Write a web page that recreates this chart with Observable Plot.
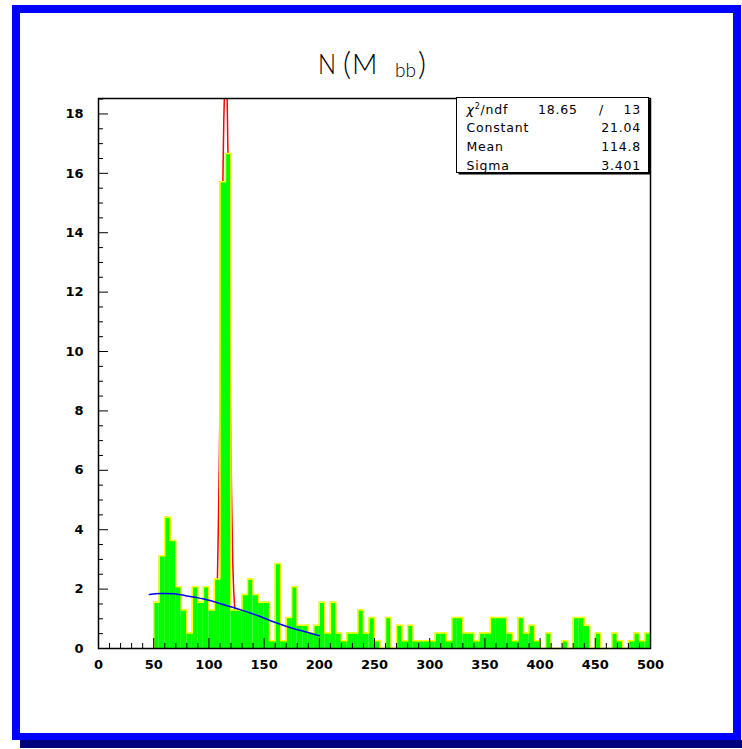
<!DOCTYPE html>
<html>
<head>
<meta charset="utf-8">
<script src="https://cdn.jsdelivr.net/npm/d3@7"></script>
<script src="https://cdn.jsdelivr.net/npm/@observablehq/plot@0.6"></script>
<style>
  html, body { margin: 0; padding: 0; background: #ffffff; }
  #page { position: relative; width: 742px; height: 749px; overflow: hidden; background: #ffffff; }
  #shadow { position: absolute; left: 20px; top: 740px; width: 722px; height: 8px; background: #00007f; }
  #outer { position: absolute; left: 12px; top: 5px; width: 729px; height: 735px; background: #0000ff; }
  #inner { position: absolute; left: 20px; top: 13px; width: 713px; height: 720px; background: #ffffff; }
  #chart { position: absolute; left: 0; top: 0; }
</style>
</head>
<body>
<div id="page">
  <div id="shadow"></div>
  <div id="outer"></div>
  <div id="inner"></div>
  <div id="chart"></div>
</div>
<script>
// ---- data ----
const binStarts = [50,55,60,65,70,75,80,85,90,95,100,105,110,115,120,125,130,135,140,145,
  150,155,160,165,170,175,180,185,190,195,200,205,210,215,220,225,230,235,240,245,
  250,255,260,265,270,275,280,285,290,295,300,305,310,315,320,325,330,335,340,345,
  350,355,360,365,370,375,380,385,390,395,400,405,410,415,420,425,430,435,440,445,
  450,455,460,465,470,475,480,485,490,495];
const binWidth = 5;
const counts = [1.56,3.12,4.42,3.64,2.08,1.30,0.52,2.08,1.56,2.08,1.30,2.34,15.72,16.67,1.30,1.30,1.82,2.34,1.82,1.56,
  1.56,0.26,2.86,0.26,1.04,2.08,0.78,0.78,0.52,0.78,1.56,0.52,1.56,0.52,0.26,0.52,0.52,1.30,0.52,1.04,
  0.26,0,1.04,0,0.78,0.26,0.78,0.26,0.26,0.26,0.26,0.52,0.52,0.26,1.04,1.04,0.52,0.52,0.26,0.52,
  0.52,1.04,1.04,1.04,0.52,0.26,1.04,0.52,0.78,0.26,0,0.52,0,0,0.26,0,1.04,1.04,0.78,0,
  0.52,0,0,0.52,0.26,0,0.26,0.52,0.26,0.52];

// Gaussian fit curve (red)
const redX = [107.7,108.5,109.5,110.5,111.5,112.5,113.5,114.5,115.5,116.5,117.5,118.5,119.5,120.5,121.5,122.5,123.5];
const redY = [2.3,4.0,6.5,9.5,12.6,15.4,17.8,19.3,19.6,18.6,16.0,12.6,8.8,5.2,3.0,1.9,1.3];

// background curve (blue)
const blueX = [46,56,68,83,98,113,129,144,159,174,189,200];
const blueY = [1.82,1.85,1.84,1.75,1.64,1.48,1.30,1.11,0.89,0.70,0.55,0.43];

const xTicks = [0,50,100,150,200,250,300,350,400,450,500];
const xMinorTicks = [10,20,30,40,60,70,80,90,110,120,130,140,160,170,180,190,210,220,230,240,
  260,270,280,290,310,320,330,340,360,370,380,390,410,420,430,440,460,470,480,490];
const yTicks = [0,2,4,6,8,10,12,14,16,18];
const yMinorTicks = [0.5,1,1.5,2.5,3,3.5,4.5,5,5.5,6.5,7,7.5,8.5,9,9.5,10.5,11,11.5,12.5,13,13.5,
  14.5,15,15.5,16.5,17,17.5,18.5];
const yMax = 18.52;

const statLabels = ["Constant", "Mean", "Sigma"];
const statValues = ["21.04", "114.8", "3.401"];
const chi2Value = "18.65";
const ndfValue = "13";

// ---- tables built from the arrays ----
const bins = binStarts.map((x, i) => ({x1: x, x2: x + binWidth, y: counts[i]}));
const outline = [{x: binStarts[0], y: 0}]
  .concat(binStarts.map((x, i) => ({x, y: counts[i]})))
  .concat([{x: binStarts[binStarts.length - 1] + binWidth, y: counts[counts.length - 1]},
           {x: binStarts[binStarts.length - 1] + binWidth, y: 0}]);
const redPts = redX.map((x, i) => ({x, y: redY[i]}));
const bluePts = blueX.map((x, i) => ({x, y: blueY[i]}));

const axisFont = {fontFamily: "DejaVu Sans", fontWeight: "bold", fontSize: 13};

const chart = Plot.plot({
  width: 742,
  height: 749,
  marginLeft: 98,
  marginRight: 92,
  marginTop: 98,
  marginBottom: 101,
  style: {background: "transparent", fontFamily: "DejaVu Sans", fontSize: "13px", color: "#000"},
  x: {domain: [0, 500]},
  y: {domain: [0, yMax]},
  marks: [
    Plot.line(redPts, {x: "x", y: "y", stroke: "#ff0000", strokeWidth: 1.5, clip: true}),
    Plot.rectY(bins, {x1: "x1", x2: "x2", y: "y", fill: "#00ff00"}),
    Plot.line(outline, {x: "x", y: "y", curve: "step-after", stroke: "#ffff00", strokeWidth: 1.5}),
    Plot.line(bluePts, {x: "x", y: "y", curve: "catmull-rom", stroke: "#0000ff", strokeWidth: 1.5}),
    Plot.axisX({ticks: xMinorTicks, tickSize: -5, tickFormat: () => "", label: null, stroke: "#000"}),
    Plot.axisX({ticks: xTicks, tickSize: -10, tickPadding: 21, label: null, stroke: "#000", ...axisFont}),
    Plot.axisY({ticks: yMinorTicks, tickSize: -5, tickFormat: () => "", label: null, stroke: "#000"}),
    Plot.axisY({ticks: yTicks, tickSize: -10, tickPadding: 25, label: null, stroke: "#000", ...axisFont}),
    Plot.frame({stroke: "#000", strokeWidth: 1.5})
  ]
});
document.getElementById("chart").appendChild(chart);

// ---- title and statistics box ----
const svg = d3.select(chart);
const titleFont = "Lato, 'DejaVu Sans', sans-serif";
function titlePart(x, y, size, txt, len) {
  const t = svg.append("text").attr("x", x).attr("y", y).attr("text-anchor", "start")
    .attr("font-family", titleFont).attr("font-weight", 300).attr("font-size", size)
    .attr("fill", "#000").text(txt);
  if (len) t.attr("textLength", len).attr("lengthAdjust", "spacingAndGlyphs");
}
titlePart(318, 73.5, 28, "N", 18);
titlePart(343, 74.5, 31, "(");
titlePart(352, 73.5, 28, "M");
titlePart(395, 77, 19, "bb");
titlePart(418, 74.5, 31, ")");

// stats box
const bx = 456.5, by = 97.5, bw = 192, bh = 75;
svg.append("rect").attr("x", bx + 2).attr("y", by + 2).attr("width", bw).attr("height", bh).attr("fill", "#000");
svg.append("rect").attr("x", bx).attr("y", by).attr("width", bw).attr("height", bh)
  .attr("fill", "#fff").attr("stroke", "#000").attr("stroke-width", 1);

const statFont = "'DejaVu Sans', sans-serif";
const rowY = [113.5, 132, 151, 169.5];
function statText(x, y, anchor, txt) {
  return svg.append("text").attr("x", x).attr("y", y).attr("text-anchor", anchor)
    .attr("font-family", statFont).attr("font-weight", "normal").attr("font-size", 12.5)
    .attr("letter-spacing", 0.8).attr("fill", "#000").text(txt);
}
const t0 = svg.append("text").attr("x", 466.5).attr("y", rowY[0]).attr("text-anchor", "start")
  .attr("font-family", statFont).attr("font-weight", "normal").attr("font-size", 12.5)
  .attr("letter-spacing", 0.8).attr("fill", "#000");
t0.append("tspan").attr("font-style", "italic").text("χ");
t0.append("tspan").attr("font-size", 8).attr("dy", -5).text("2");
t0.append("tspan").attr("dy", 5).text("/ndf");
statText(538, rowY[0], "start", chi2Value);
statText(601.5, rowY[0], "middle", "/");
statText(641, rowY[0], "end", ndfValue);
statLabels.forEach((lab, i) => {
  statText(466.5, rowY[i + 1], "start", lab);
  statText(641, rowY[i + 1], "end", statValues[i]);
});
</script>
</body>
</html>
